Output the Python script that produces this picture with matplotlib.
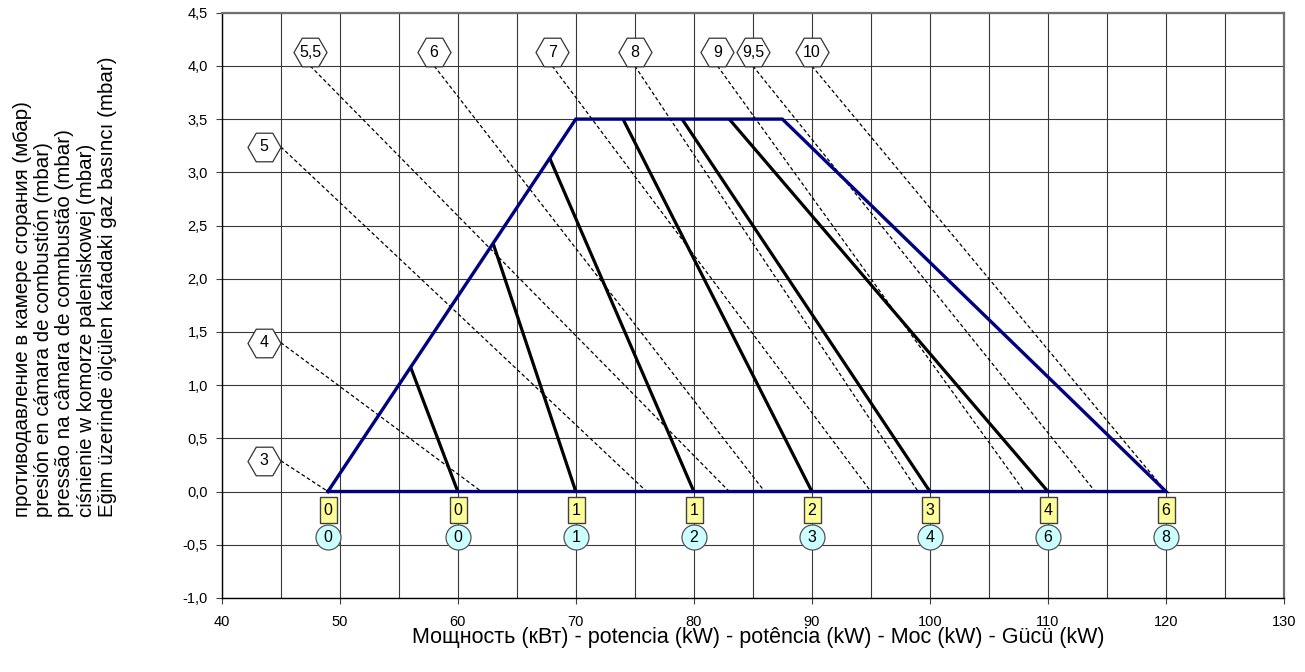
import matplotlib
matplotlib.use("Agg")
import matplotlib.pyplot as plt
import numpy as np
from matplotlib.ticker import MultipleLocator, FuncFormatter

plt.rcParams['font.family'] = ['Liberation Sans', 'DejaVu Sans']

# ---- data ----
env_x = [49, 70, 87.5, 120, 49]
env_y = [0, 3.5, 3.5, 0, 0]

base_x = [60, 70, 80, 90, 100, 110]
top_x = [56, 63, 67.8, 74, 79, 83]
top_y = [1.17, 2.33, 3.13, 3.5, 3.5, 3.5]

hex_labels = ['3', '4', '5', '5,5', '6', '7', '8', '9', '9,5', '10']
hex_x = [43.6, 43.6, 43.6, 47.5, 58, 68, 75, 82, 85, 90]
hex_y = [0.29, 1.4, 3.24, 4.13, 4.13, 4.13, 4.13, 4.13, 4.13, 4.13]
dash_start_x = [45, 45, 45, 47.5, 58, 68, 75, 82, 85, 90]
dash_start_y = [0.29, 1.4, 3.24, 4.0, 4.0, 4.0, 4.0, 4.0, 4.0, 4.0]
dash_end_x = [49, 62, 76, 83, 86, 95, 99, 108, 114, 120]

mark_x = [49, 60, 70, 80, 90, 100, 110, 120]
square_labels = ['0', '0', '1', '1', '2', '3', '4', '6']
circle_labels = ['0', '0', '1', '2', '3', '4', '6', '8']
square_y = -0.175
circle_y = -0.43

x_ticks = [40, 50, 60, 70, 80, 90, 100, 110, 120, 130]
y_label = ("противодавление в камере сгорания (мбар)\n"
           "presión en cámara de combustión (mbar)\n"
           "pressão na câmara de comnbustão (mbar)\n"
           "ciśnienie w komorze paleniskowej (mbar)\n"
           "Eğim üzerinde ölçülen kafadaki gaz basıncı (mbar)")
x_label = "Мощность (кВт) - potencia (kW) - potência (kW) - Moc (kW) - Gücü (kW)"

# ---- figure ----
dpi = 100
px = 72 / dpi
fig = plt.figure(figsize=(13.05, 6.72), dpi=dpi)
ax = fig.add_axes([221.7/1305, 1-597.9/672, (1284-221.7)/1305, (597.9-12.7)/672])
ax.set_xlim(40, 130)
ax.set_ylim(-1.0, 4.5)

ax.xaxis.set_major_locator(MultipleLocator(10))
ax.xaxis.set_minor_locator(MultipleLocator(5))
ax.yaxis.set_major_locator(MultipleLocator(0.5))
ax.grid(True, which='both', axis='x', color='#383838', lw=0.8, zorder=0)
ax.grid(True, which='major', axis='y', color='#383838', lw=0.8, zorder=0)
ax.set_axisbelow(True)
ax.yaxis.set_major_formatter(FuncFormatter(lambda v, p: f"{v:.1f}".replace('.', ',')))
ax.tick_params(axis='both', which='major', labelsize=10.5, length=4, color='#404040')
ax.tick_params(axis='x', which='minor', length=0)
ax.tick_params(axis='x', pad=8)
ax.tick_params(axis='y', pad=6)

for s in ['top', 'right']:
    ax.spines[s].set_color('#707070')
    ax.spines[s].set_linewidth(1.6)
for s in ['left', 'bottom']:
    ax.spines[s].set_color('black')
    ax.spines[s].set_linewidth(1.0)

# dashed lines
for sx, sy, ex in zip(dash_start_x, dash_start_y, dash_end_x):
    ax.plot([sx, ex], [sy, 0], color='black', lw=0.9, ls=(0, (3, 2)), zorder=2)

# black lines
for bx, tx, ty in zip(base_x, top_x, top_y):
    ax.plot([bx, tx], [0, ty], color='black', lw=2.3, zorder=3, solid_capstyle='butt')

# envelope
ax.plot(env_x, env_y, color='#000080', lw=2.4, zorder=4, solid_joinstyle='miter')

# hexagons
ax.plot(hex_x, hex_y, ls='none', marker='H', ms=33 * px, mfc='white', mec='#333333',
        mew=0.9, zorder=5, clip_on=False)
for lab, hx, hy in zip(hex_labels, hex_x, hex_y):
    ax.text(hx, hy, lab, ha='center', va='center', fontsize=11.5, zorder=6)

# squares and circles
rect_marker = [(-17, -26), (17, -26), (17, 26), (-17, 26), (-17, -26)]
ax.plot(mark_x, [square_y]*len(mark_x), ls='none', marker=rect_marker, ms=26 * px,
        mfc='#FFFF99', mec='#404040', mew=1.0, zorder=5)
ax.plot(mark_x, [circle_y]*len(mark_x), ls='none', marker='o', ms=25 * px,
        mfc='#CCFFFF', mec='#555555', mew=0.9, zorder=5)
for mx, sl, cl in zip(mark_x, square_labels, circle_labels):
    ax.text(mx, square_y, sl, ha='center', va='center', fontsize=11.5, zorder=6)
    ax.text(mx, circle_y, cl, ha='center', va='center', fontsize=11.5, zorder=6)

ax.set_xticks(x_ticks)

fig.text(758/1305, 1-637/672, x_label, ha='center', va='center', fontsize=15.5)
fig.text(65/1305, 1-287/672, y_label, ha='center', va='center', rotation=90,
         fontsize=14.8, multialignment='left', linespacing=1.15)

fig.savefig('out.png', dpi=dpi)
